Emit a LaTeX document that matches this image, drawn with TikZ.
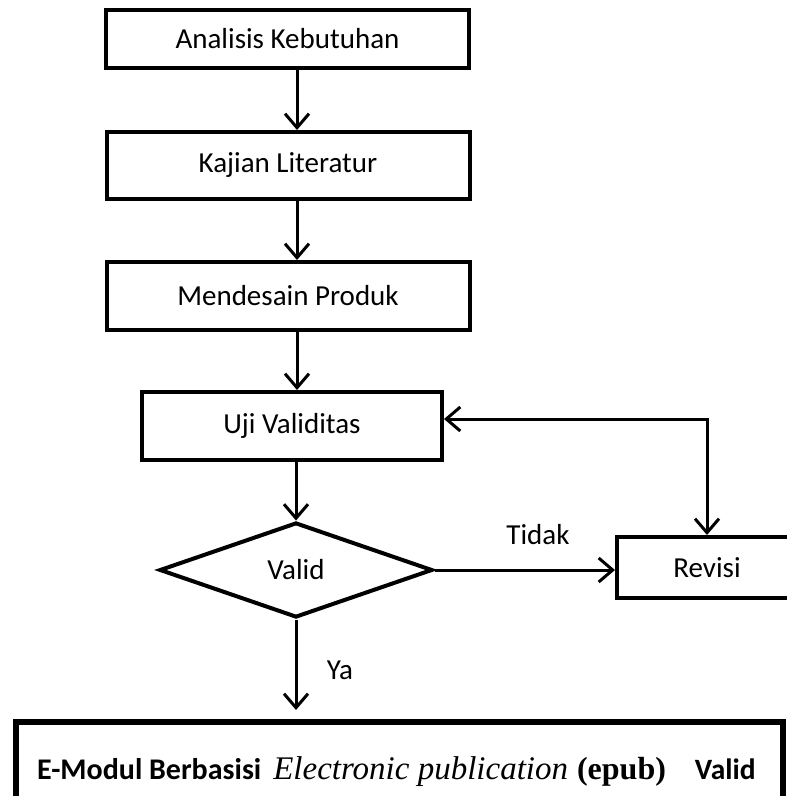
\documentclass[tikz,border=0pt]{standalone}
\usepackage{fontspec}
\setmainfont{Carlito}
\newfontfamily\timesfont{Liberation Serif}
\usetikzlibrary{shapes.geometric,arrows.meta}
\begin{document}
\begin{tikzpicture}[x=1pt,y=1pt,
  every node/.style={font=\fontsize{29}{34}\selectfont},
  stepbox/.style={draw, line width=4pt, rectangle, inner sep=0pt},
  decision/.style={draw, line width=4pt, diamond, inner sep=0pt,
    minimum width=273pt, minimum height=95pt},
  flow/.style={line width=3pt, -{Straight Barb[length=14pt,width=24pt]}},
  twoway/.style={line width=3pt,
    {Straight Barb[length=14pt,width=24pt]}-{Straight Barb[length=14pt,width=24pt]}},
  lbl/.style={inner sep=0pt}]
\useasboundingbox (0,0) rectangle (787,-796);
\clip (0,0) rectangle (787,-796);

% process steps
\node[stepbox, minimum width=363pt, minimum height=58pt] (analisis) at (287.5,-39) {Analisis Kebutuhan};
\node[stepbox, minimum width=363pt, minimum height=67pt] (kajian) at (288,-165.5) {Kajian Literatur};
\node[stepbox, minimum width=363pt, minimum height=68pt] (desain) at (288,-296) {Mendesain Produk};
\node[stepbox, minimum width=300pt, minimum height=68pt] (uji) at (292,-426) {Uji Validitas};
\node[decision] (valid) at (296,-570) {Valid};
\node[stepbox, minimum width=180pt, minimum height=61pt] (revisi) at (707,-567.5) {Revisi};
\node[draw, line width=5.5pt, rectangle, inner sep=0pt,
  minimum width=767pt, minimum height=136pt] (final) at (399.5,-790) {};
\node[lbl, anchor=base west] (finaltext) at (37,-779)
  {{\fontsize{30}{35}\selectfont\bfseries E-Modul Berbasisi}\hspace{12pt}{\timesfont\fontsize{33}{38}\selectfont\itshape Electronic publication}\hspace{9pt}{\timesfont\fontsize{32}{37}\selectfont\bfseries (epub)}\hspace{29pt}{\fontsize{29.5}{34}\selectfont\bfseries Valid}};

% helper coordinates
\coordinate (axis) at (297,0);
\coordinate (corner) at (707,-419);
\coordinate (yaend) at (296,-710);

% connectors
\draw[flow] (analisis.south -| axis) -- (kajian.north -| axis);
\draw[flow] (kajian.south -| axis) -- (desain.north -| axis);
\draw[flow] (desain.south -| axis) -- (uji.north -| axis);
\draw[flow] (uji.south -| valid.north) -- (valid.north);
\draw[flow] (valid.east) -- (valid.east -| revisi.west);
\draw[twoway] (corner -| uji.east) -- (corner) -- (revisi.north);
\draw[flow] (valid.south) -- (yaend);

% branch labels
\node[lbl] (tidak) at (538,-535) {Tidak};
\node[lbl] (ya) at (340,-670) {Ya};
\end{tikzpicture}
\end{document}
